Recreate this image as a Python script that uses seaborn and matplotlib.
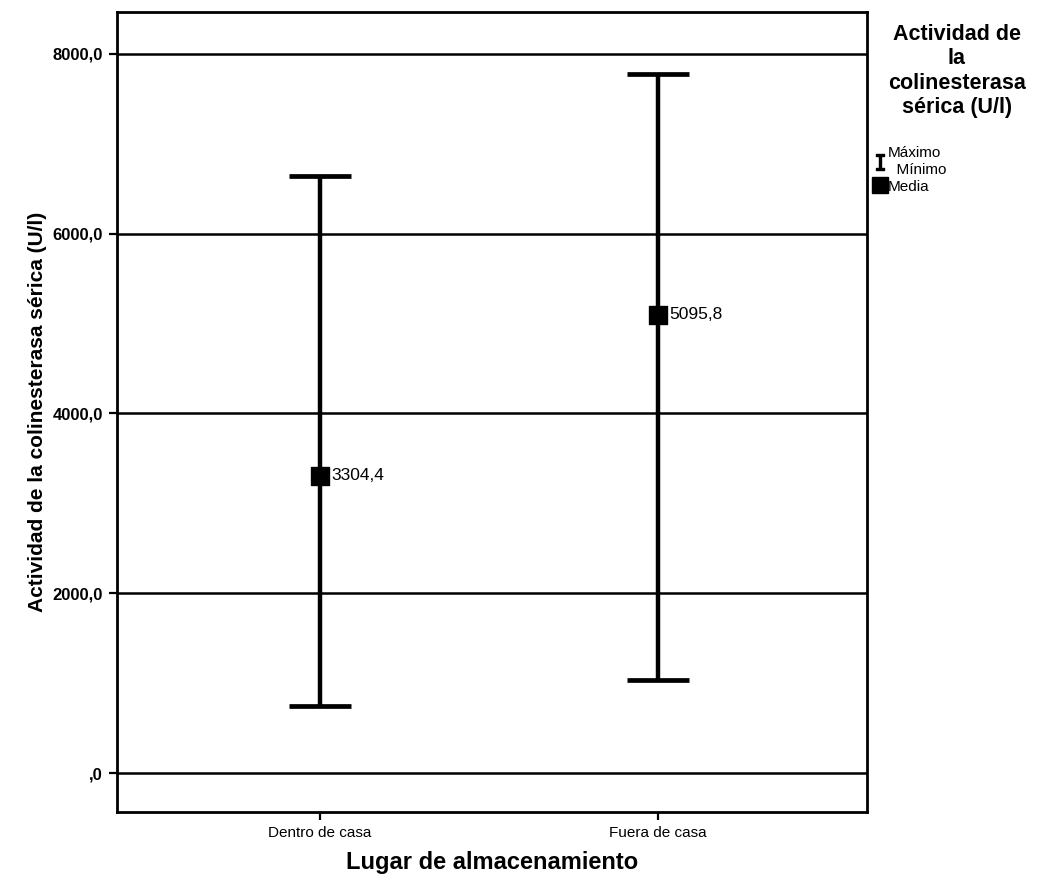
import matplotlib
matplotlib.use("Agg")
import matplotlib.pyplot as plt
import seaborn as sns
import pandas as pd
from matplotlib.lines import Line2D

# Serum cholinesterase activity (U/l) by storage place
lugares = ["Dentro de casa", "Fuera de casa"]
medias = [3304.4, 5095.8]
minimos = [745.0, 1035.0]
maximos = [6645.0, 7780.0]

yticks = [0, 2000, 4000, 6000, 8000]
ytick_labels = [",0", "2000,0", "4000,0", "6000,0", "8000,0"]

sns.set_theme(style="white")
plt.rcParams["font.family"] = ["Liberation Sans", "DejaVu Sans"]
plt.rcParams["text.color"] = "black"
plt.rcParams["axes.labelcolor"] = "black"
plt.rcParams["xtick.color"] = "black"
plt.rcParams["ytick.color"] = "black"

df = pd.DataFrame({"lugar": lugares, "media": medias,
                   "minimo": minimos, "maximo": maximos})

fig = plt.figure(figsize=(10.39, 8.93), dpi=100)
ax = fig.add_axes([0.1126, 0.0907, 0.722, 0.896])

# grid lines at the major ticks
for t in yticks:
    ax.axhline(t, color="black", lw=1.8, zorder=1)

pos = list(range(len(lugares)))
# range bars: minimum to maximum with caps
ax.errorbar(pos, df["media"],
            yerr=[df["media"] - df["minimo"], df["maximo"] - df["media"]],
            fmt="none", ecolor="black", elinewidth=3.2, capsize=22,
            capthick=3.4, zorder=3)

# mean markers
sns.scatterplot(data=df, x=pos, y="media", marker="s", s=150, color="black",
                edgecolor="black", ax=ax, zorder=4, legend=False)

for x, m in zip(pos, df["media"]):
    ax.annotate(f"{m:.1f}".replace(".", ","), (x, m), xytext=(8.5, 0),
                textcoords="offset points", va="center", ha="left",
                fontsize=12.5, color="black", zorder=5)

ax.set_xlim(-0.6, 1.62)
ax.set_ylim(-433, 8466)
ax.set_xticks(pos)
ax.set_xticklabels(lugares, fontsize=11)
ax.set_yticks(yticks)
ax.set_yticklabels(ytick_labels, fontsize=12, fontweight="bold")
ax.tick_params(axis="both", which="major", length=6, width=1.6,
               color="black", bottom=True, left=True, pad=4)
for s in ax.spines.values():
    s.set_color("black")
    s.set_linewidth(2)

ax.set_xlabel("Lugar de almacenamiento", fontsize=17, fontweight="bold",
              labelpad=8)
ax.set_ylabel("Actividad de la colinesterasa sérica (U/l)", fontsize=15,
              fontweight="bold", labelpad=4)

# legend on the right
fig.text(0.921, 0.973, "Actividad de\nla\ncolinesterasa\nsérica (U/l)",
         ha="center", va="top", fontsize=15.5, fontweight="bold",
         linespacing=1.2)
handles = [
    Line2D([0], [0], color="black", lw=2.5, marker="$\\mathtt{I}$",
           markersize=11, linestyle="none"),
    Line2D([0], [0], color="black", marker="s", markersize=11,
           linestyle="none"),
]
fig.legend(handles, ["Máximo\n  Mínimo", "Media"], loc="upper left",
           bbox_to_anchor=(0.837, 0.843), frameon=False, fontsize=11,
           handlelength=0.6, handletextpad=0.2, labelspacing=0.2,
           borderaxespad=0)

fig.savefig("out.png", dpi=100)
